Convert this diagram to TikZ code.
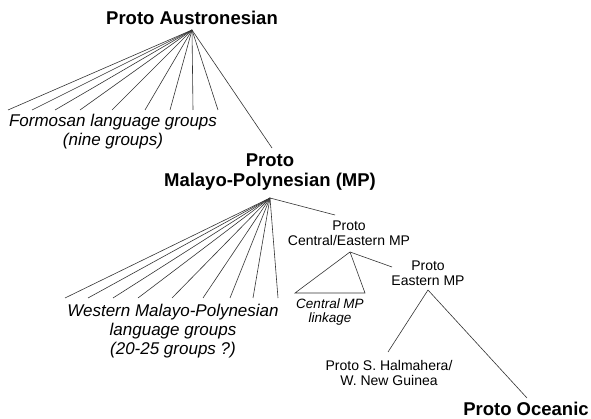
\documentclass[tikz,border=0pt]{standalone}
\usepackage{fontspec}
\setmainfont{Liberation Sans}

\begin{document}
\begin{tikzpicture}[ x=1pt , y=-1pt ,
  branch/.style={draw=black!80, line width=0.6pt} ,
  bigname/.style={font=\bfseries\fontsize{18.5}{20}\selectfont, align=center} ,
  smallname/.style={font=\fontsize{14}{15}\selectfont, align=center} ,
  groupname/.style={font=\itshape\fontsize{17}{19}\selectfont, align=center} ,
  linkname/.style={font=\itshape\fontsize{13.5}{14}\selectfont, align=center} ]
\useasboundingbox (0,0) rectangle (591,419);

\node [ bigname ] (pan) at (192,17.4) {Proto Austronesian};
\node [ groupname ] (formosan) at (113,132) {Formosan language groups\\(nine groups)};
\node [ bigname ] (pmp) at (270,172.3) {Proto\\Malayo-Polynesian (MP)};
\node [ groupname ] (wmp) at (173,331.6) {Western Malayo-Polynesian\\language groups\\(20-25 groups ?)};
\node [ smallname ] (pcemp) at (349,233.5) {Proto\\Central/Eastern MP};
\node [ linkname ] (cmp) at (330,312) {Central MP\\linkage};
\node [ smallname ] (pemp) at (428,273) {Proto\\Eastern MP};
\node [ smallname ] (pshwng) at (389,372.5) {Proto S. Halmahera/\\W. New Guinea};
\node [ bigname ] (poc) at (526,408.5) {Proto Oceanic};

% apex points under each proto language
\coordinate (pan top) at (192,30);
\coordinate (pmp top) at (270,198);
\coordinate (pcemp top) at (350,252);
\coordinate (pemp top) at (428,290);

% Formosan fan
\foreach \x [count=\i] in {8,32,55,80,112,145,170,193,218} {
  \coordinate (f\i) at (\x,110);
  \path [ branch ] (pan top) edge (f\i);
}
\coordinate (pmp end) at (272,148);
\path [ branch ] (pan top) edge (pmp end);

% Western MP fan
\foreach \x [count=\i] in {65,88,113,138,172,203,230,253,278} {
  \coordinate (w\i) at (\x,298);
  \path [ branch ] (pmp top) edge (w\i);
}
\coordinate (pcemp end) at (335,215);
\path [ branch ] (pmp top) edge (pcemp end);

% Central MP linkage and Eastern MP
\coordinate (cmp left) at (295,293);
\coordinate (cmp right) at (365,293);
\draw [ branch ] (pcemp top) -- (cmp left) -- (cmp right) -- cycle;
\coordinate (pemp end) at (392,267);
\path [ branch ] (pcemp top) edge (pemp end);

\coordinate (pshwng end) at (388,352);
\coordinate (poc end) at (527,398);
\path [ branch ] (pemp top) edge (pshwng end) edge (poc end);
\end{tikzpicture}
\end{document}
